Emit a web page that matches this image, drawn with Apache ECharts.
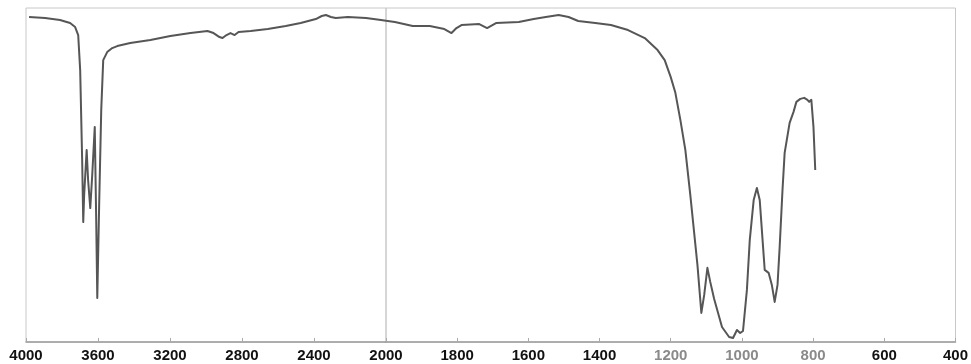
<!DOCTYPE html>
<html>
<head>
<meta charset="utf-8">
<script src="https://cdn.jsdelivr.net/npm/echarts@6/dist/echarts.min.js"></script>
<style>html,body{margin:0;padding:0;background:#fff;}#c{width:971px;height:364px;}</style>
</head>
<body>
<div id="c"></div>
<script>
// Wavenumber (cm-1) and transmittance (%)
const wavenumbers = [3983,3894,3811,3755,3727,3710,3699,3688,3682,3677,3663,3655,3643,3632,3618,3610,3604,3593,3582,3571,3549,3521,3493,3421,3309,3198,3086,2992,2958,2925,2908,2886,2864,2841,2819,2752,2657,2557,2474,2390,2357,2334,2306,2279,2212,2111,2028,2000,
1975,1925,1877,1836,1816,1802,1788,1738,1716,1691,1627,1585,1551,1515,1487,1460,1412,1368,1320,1273,1237,1217,1200,1187,1173,1159,1145,1125,1114,1106,1097,1089,1078,1056,1036,1025,1014,1005,997,986,978,967,958,950,941,936,925,916,908,900,894,886,880,866,855,847,836,825,816,811,805,799,794];
const transmittance = [97.3,97.0,96.4,95.5,94.3,91.9,81.4,54.5,35.9,43.9,57.5,48.5,40.1,50.0,64.4,36.5,13.2,42.5,69.5,84.4,86.8,88.0,88.6,89.5,90.4,91.6,92.5,93.1,92.5,91.3,91.0,91.9,92.5,91.9,92.8,93.1,93.7,94.6,95.5,96.7,97.6,97.9,97.3,97.0,97.3,97.0,96.4,96.2,
95.8,94.6,94.6,93.7,92.5,94.0,94.9,95.2,94.0,95.5,95.8,96.7,97.3,97.9,97.3,96.1,95.5,94.9,93.4,91.0,87.4,84.4,79.3,74.6,66.5,57.5,44.0,23.1,8.7,14.1,22.2,18.0,12.9,4.5,1.5,1.2,3.6,2.7,3.3,15.6,30.5,42.5,46.1,42.5,29.0,21.6,20.7,17.1,12.0,17.1,28.4,45.5,56.6,65.6,68.9,71.9,72.8,73.1,72.5,71.9,72.5,64.4,51.5];
const leftTicks = [4000,3600,3200,2800,2400];
const rightTicks = [2000,1800,1600,1400,1200,1000,800,600,400];
const fadedTicks = [1200,1000,800];

const pairs = wavenumbers.map((w,i)=>[w,transmittance[i]]);
const highPart = pairs.filter(p=>p[0]>=2000);
const lowPart = pairs.filter(p=>p[0]<=2000);

const FONT = 'Liberation Sans, Arial, sans-serif';
function fmt(v){
  if (fadedTicks.indexOf(v) >= 0) return '{f|' + v + '}';
  return '{n|' + v + '}';
}
const labelStyle = {
  fontFamily: FONT,
  fontWeight: 'bold',
  fontSize: 15,
  margin: 6,
  rich: {
    n: {color:'#111', fontWeight:'bold', fontSize:15, fontFamily:FONT},
    f: {color:'#8a8a8a', fontWeight:'bold', fontSize:15, fontFamily:FONT}
  }
};

const chart = echarts.init(document.getElementById('c'), null, {renderer:'canvas'});
chart.setOption({
  animation: false,
  backgroundColor: '#ffffff',
  grid: [
    {left: 26, width: 360, top: 8, bottom: 22, show: true, borderColor: '#c8c8c8', borderWidth: 1},
    {left: 386, right: 12, top: 8, bottom: 22, show: true, borderColor: '#c8c8c8', borderWidth: 1}
  ],
  xAxis: [
    {gridIndex:0, type:'value', min:2000, max:4000, interval:400, inverse:true,
     axisLine:{show:true, lineStyle:{color:'#9a9a9a', width:1.5}},
     axisTick:{show:true, inside:true, length:4, lineStyle:{color:'#aaa'}},
     splitLine:{show:false},
     axisLabel: Object.assign({}, labelStyle, {formatter: v => (leftTicks.indexOf(v)>=0 ? fmt(v) : '')})},
    {gridIndex:1, type:'value', min:400, max:2000, interval:200, inverse:true,
     axisLine:{show:true, lineStyle:{color:'#9a9a9a', width:1.5}},
     axisTick:{show:true, inside:true, length:4, lineStyle:{color:'#aaa'}},
     splitLine:{show:false},
     axisLabel: Object.assign({}, labelStyle, {formatter: v => (rightTicks.indexOf(v)>=0 ? fmt(v) : '')})}
  ],
  yAxis: [
    {gridIndex:0, type:'value', min:0, max:100, show:true, axisLine:{show:false}, axisTick:{show:false}, axisLabel:{show:false}, splitLine:{show:false}},
    {gridIndex:1, type:'value', min:0, max:100, show:true, axisLine:{show:false}, axisTick:{show:false}, axisLabel:{show:false}, splitLine:{show:false}}
  ],
  series: [
    {type:'line', xAxisIndex:0, yAxisIndex:0, data: highPart, showSymbol:false, smooth:false,
     lineStyle:{color:'#565656', width:2, join:'round'}, silent:true},
    {type:'line', xAxisIndex:1, yAxisIndex:1, data: lowPart, showSymbol:false, smooth:false,
     lineStyle:{color:'#565656', width:2, join:'round'}, silent:true}
  ]
});
</script>
</body>
</html>
